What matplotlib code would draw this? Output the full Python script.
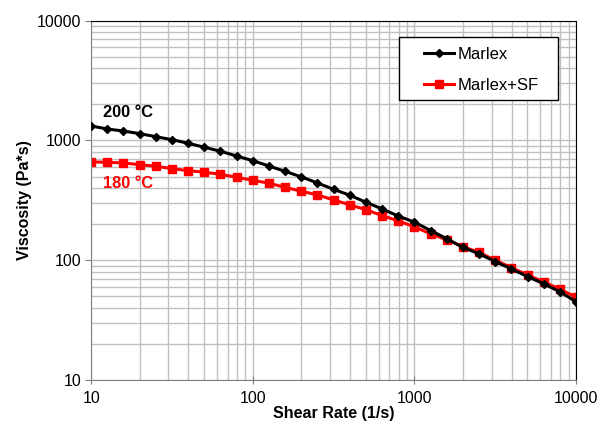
import matplotlib.pyplot as plt
from matplotlib.patches import Rectangle

plt.rcParams['font.family'] = ['Liberation Sans', 'DejaVu Sans']

# shear rate (1/s), 10 points per decade
shear = [10, 12.6, 15.8, 20, 25.1, 31.6, 39.8, 50.1, 63.1, 79.4,
         100, 126, 158, 200, 251, 316, 398, 501, 631, 794,
         1000, 1259, 1585, 1995, 2512, 3162, 3981, 5012, 6310, 7943, 10000]
marlex = [1321, 1247, 1200, 1140, 1076, 1016, 948, 878, 813, 742,
          678, 612, 553, 496, 442, 391, 349, 305, 268, 234,
          208, 177, 151, 128, 113, 97.5, 84.5, 73, 63.5, 54.5, 45]
marlex_sf = [662, 658, 649, 628, 609, 582, 560, 543, 522, 493,
             465, 440, 406, 377, 351, 319, 290, 264, 236, 213,
             190, 166, 148, 130, 116, 100, 86.7, 75.3, 65.9, 57.3, 49.1]
ticks = [10, 100, 1000, 10000]

fig = plt.figure(figsize=(6, 4.24), dpi=100)
ax = fig.add_axes([0.152, 0.104, 0.808, 0.847])

ax.plot(shear, marlex, color='black', lw=2.2, marker='D', ms=4.5, label='Marlex', zorder=3)
ax.plot(shear, marlex_sf, color='#ff0000', lw=2.2, marker='s', ms=6, label='Marlex+SF', zorder=2)

ax.set_xscale('log')
ax.set_yscale('log')
ax.set_xlim(10, 10000)
ax.set_ylim(10, 10000)
ax.set_xticks(ticks)
ax.set_xticklabels([str(t) for t in ticks])
ax.set_yticks(ticks)
ax.set_yticklabels([str(t) for t in ticks])
ax.grid(True, which='both', color='#c0c0c0', lw=1)
ax.set_axisbelow(True)
ax.tick_params(which='major', length=4, color='#808080', labelsize=11.5, pad=3)
ax.tick_params(which='minor', length=0)
ax.tick_params(axis='x', direction='inout', length=6, pad=5)

for s in ['left', 'bottom']:
    ax.spines[s].set_color('#808080')
for s in ['top', 'right']:
    ax.spines[s].set_color('black')

ax.set_xlabel('Shear Rate (1/s)', fontsize=11.5, fontweight='bold', labelpad=0)
ax.set_ylabel('Viscosity (Pa*s)', fontsize=11.5, fontweight='bold', labelpad=4)

ax.text(11.8, 1580, '200 °C', fontsize=11.8, fontweight='bold', color='black')
ax.text(11.8, 400, '180 °C', fontsize=11.8, fontweight='bold', color='#ff0000')

# legend box drawn by hand (Excel-style padding)
box = Rectangle((0.665, 0.764), 0.265, 0.149, transform=fig.transFigure,
                facecolor='white', edgecolor='black', lw=1, zorder=4)
fig.patches.append(box)
leg = fig.legend(loc='upper left', bbox_to_anchor=(0.706, 0.889), fontsize=12,
                 frameon=False, handlelength=1.85, handletextpad=0.2,
                 labelspacing=0.95, borderpad=0, borderaxespad=0)
leg.set_zorder(5)

fig.savefig('out.png', dpi=100)
